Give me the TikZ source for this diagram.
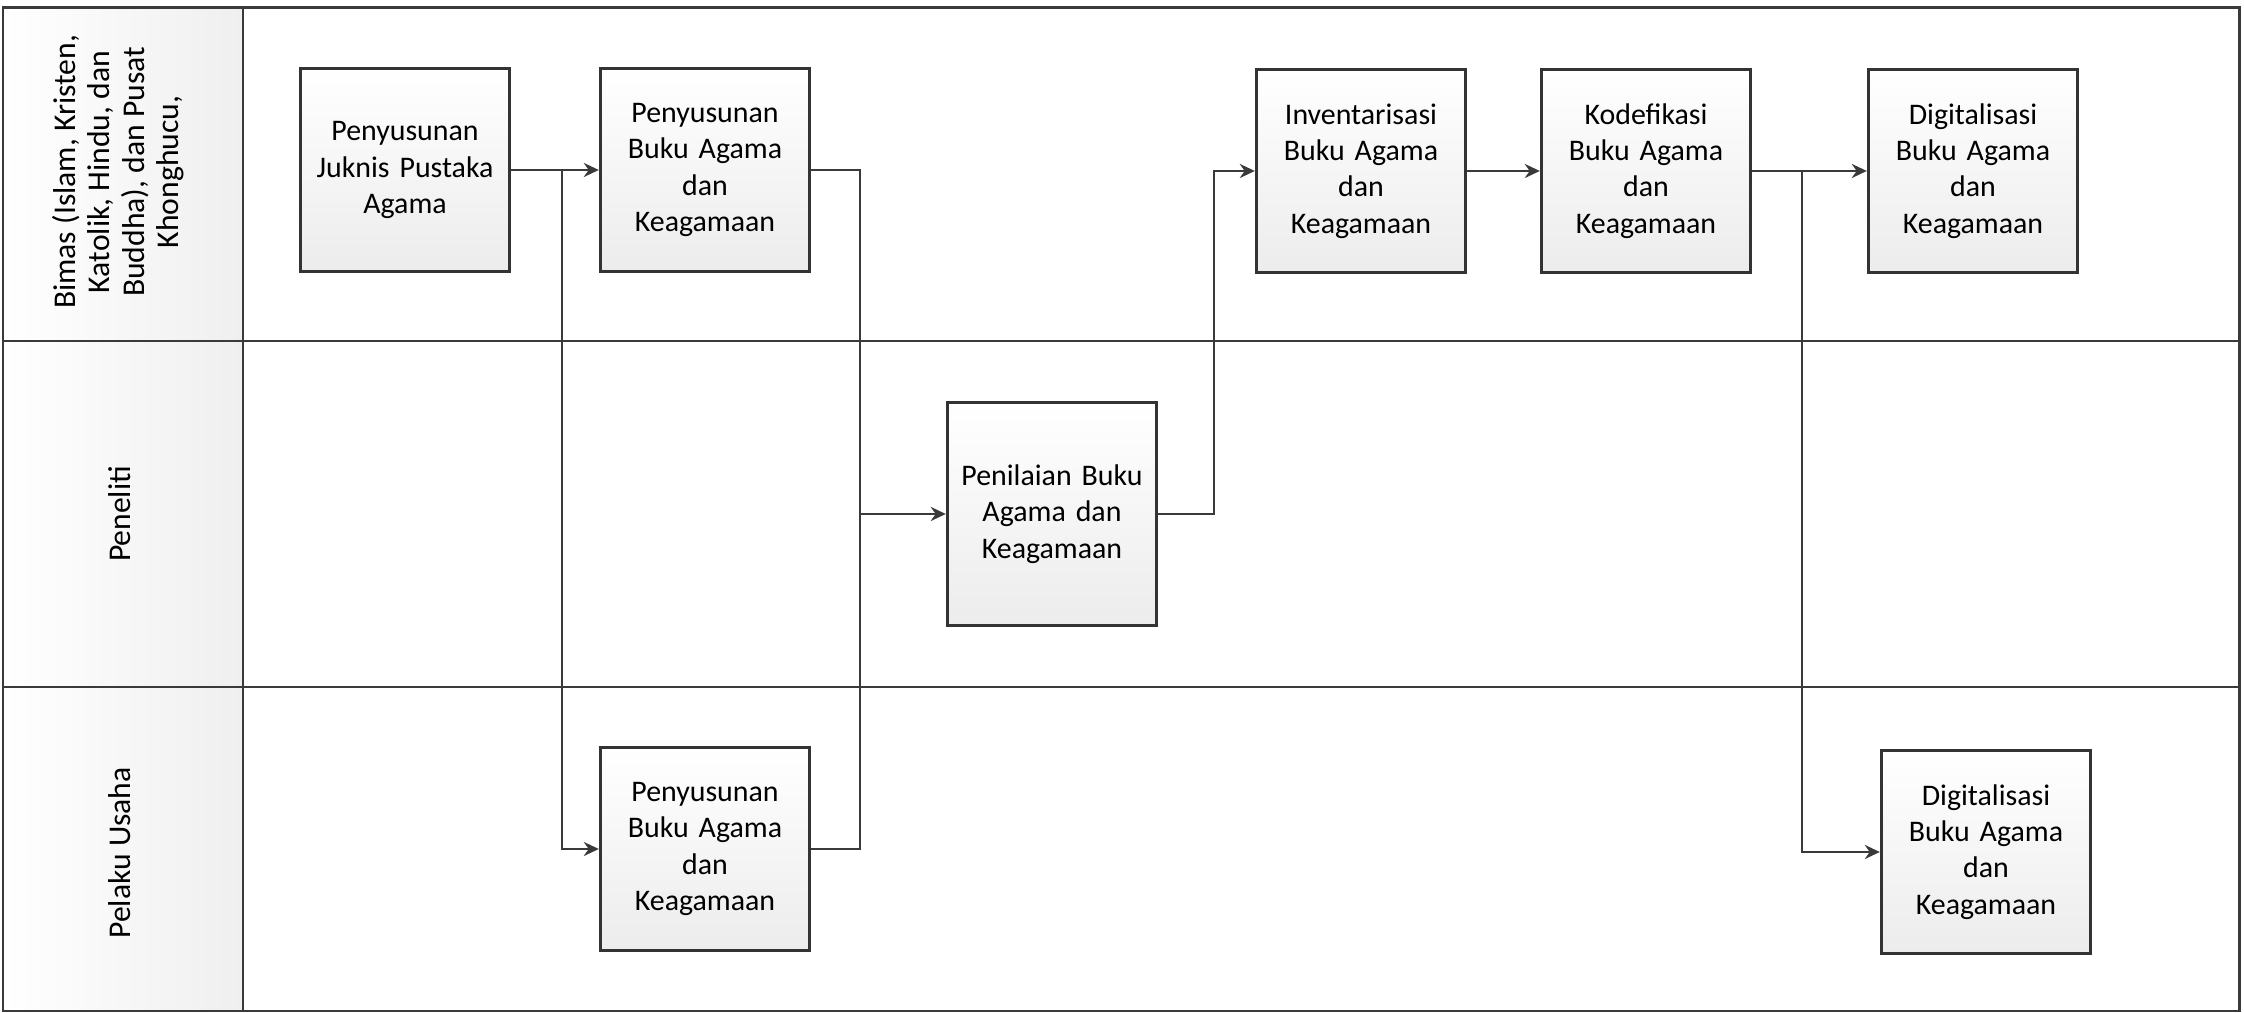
\documentclass[tikz,border=0pt]{standalone}
\usepackage{fontspec}
\setmainfont{Carlito}
\usepackage{xcolor}
\usetikzlibrary{arrows.meta,positioning}
\definecolor{linex}{HTML}{3A3A3A}
\definecolor{boxedge}{HTML}{333333}
\definecolor{boxlow}{HTML}{ECECEC}
\definecolor{lanebg}{HTML}{EFEFEF}
\tikzset{
  ar/.style={-{Stealth[length=1.5mm,width=1.4mm]},line width=0.75pt,linex},
  ln/.style={line width=0.75pt,linex},
  box/.style={draw=boxedge,line width=0.9pt,top color=white,bottom color=boxlow,align=center,
    minimum width=2.03cm,minimum height=2.03cm,text width=1.95cm,inner sep=2pt,
    font=\fontsize{8.5}{10.3}\selectfont},
  lanetxt/.style={rotate=90,align=center,font=\fontsize{9}{9.8}\selectfont}
}
\begin{document}
\begin{tikzpicture}[x=0.01cm,y=-0.01cm]
\useasboundingbox (0,0) rectangle (2244,1013);
\shade[left color=white,right color=lanebg] (3,8) rectangle (243,1011);
\draw[ln,line width=0.85pt] (3,8) rectangle (2239,1011);
\draw[ln] (243,8) -- (243,1011);
\draw[ln] (3,341) -- (2239,341);
\draw[ln] (3,687) -- (2239,687);
\node[lanetxt] (lbimas) at (118,172) {Bimas (Islam, Kristen,\\Katolik, Hindu, dan\\Buddha), dan Pusat\\Khonghucu,};
\node[lanetxt] (lpeneliti) at (120,514) {Peneliti};
\node[lanetxt] (lpelaku) at (120,853) {Pelaku Usaha};
\node[box] (jukn) at (405,170) {Penyusunan\\Juknis Pustaka\\Agama};
\node[box] (susA) at (705,170) {Penyusunan\\Buku Agama\\dan\\Keagamaan};
\node[box] (inv) at (1361,171) {Inventarisasi\\Buku Agama\\dan\\Keagamaan};
\node[box] (kod) at (1646,171) {Kodefikasi\\Buku Agama\\dan\\Keagamaan};
\node[box] (digA) at (1973,171) {Digitalisasi\\Buku Agama\\dan\\Keagamaan};
\node[box,minimum height=2.23cm] (nil) at (1052,514) {Penilaian Buku\\Agama dan\\Keagamaan};
\node[box] (susB) at (705,849) {Penyusunan\\Buku Agama\\dan\\Keagamaan};
\node[box] (digB) at (1986,852) {Digitalisasi\\Buku Agama\\dan\\Keagamaan};
\coordinate (j1) at (562,170);
\coordinate (j2) at (860,170);
\coordinate (j3) at (1802,171);
\draw[ar] (jukn.east) -- (susA.west);
\draw[ar] (j1) |- (susB.west);
\draw[ln] (susA.east) -- (j2) |- (susB.east);
\draw[ar] (j2 |- nil.west) -- (nil.west);
\draw[ar] (nil.east) -- ++(56,0) |- (inv.west);
\draw[ar] (inv.east) -- (kod.west);
\draw[ar] (kod.east) -- (digA.west);
\draw[ar] (j3) |- (digB.west);
\end{tikzpicture}
\end{document}
